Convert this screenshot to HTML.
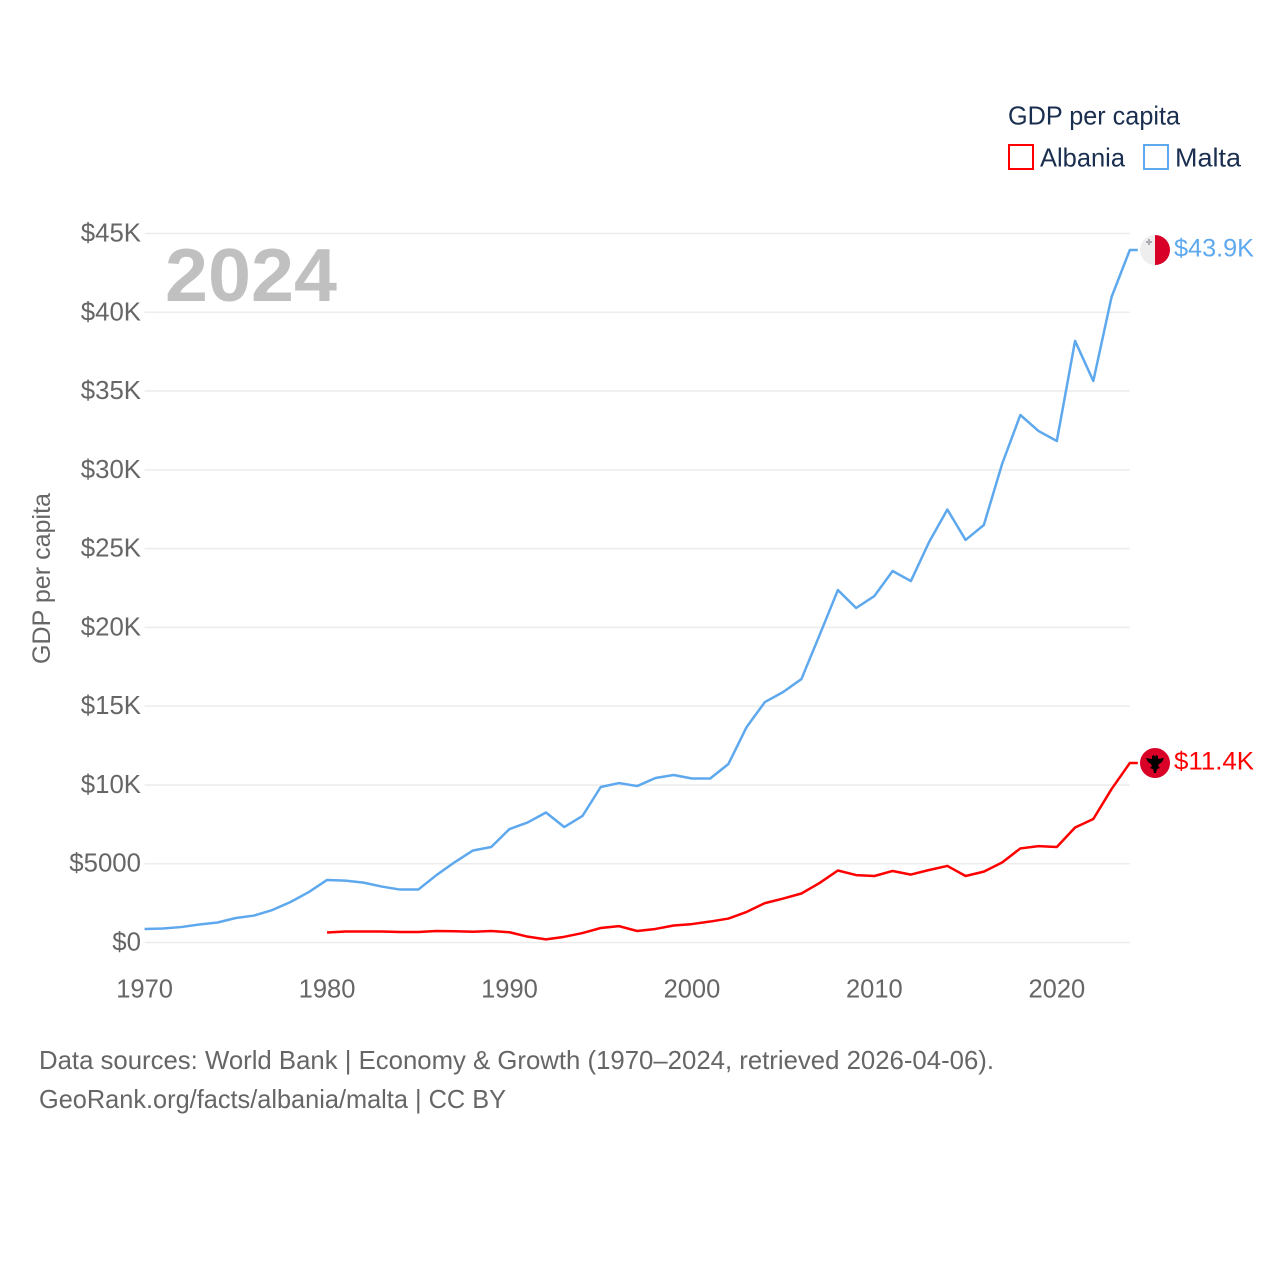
<!DOCTYPE html>
<html lang="en">
<head>
<meta charset="utf-8">
<title>GDP per capita: Albania and Malta</title>
<style>
html,body{margin:0;padding:0;background:#fff;width:1280px;height:1280px;overflow:hidden}
svg{display:block;font-family:"Liberation Sans",sans-serif}
</style>
</head>
<body>
<svg id="chart" xmlns="http://www.w3.org/2000/svg" width="1280" height="1280" viewBox="0 0 1280 1280">
  <defs>
    <clipPath id="flag-clip"><circle cx="0" cy="0" r="15"></circle></clipPath>
  </defs>
  <g id="grid"></g>
  <g id="y-ticks"></g>
  <g id="x-ticks"></g>
  <text x="165" y="301" font-size="75" font-weight="700" fill="#c0c0c0" textLength="172" lengthAdjust="spacingAndGlyphs">2024</text>
  <text transform="translate(50,664) rotate(-90)" font-size="25" fill="#666666" textLength="171" lengthAdjust="spacingAndGlyphs">GDP per capita</text>
  <g id="series"></g>
  <g id="malta-flag">
    <g clip-path="url(#flag-clip)">
      <rect x="-15" y="-15" width="15" height="30" fill="#eeeeee"></rect>
      <rect x="0" y="-15" width="15" height="30" fill="#d80027"></rect>
      <path d="M-7,-11h2v2h2v2h-2v2h-2v-2h-2v-2h2z" fill="#acabb1"></path>
    </g>
  </g>
  <g id="albania-flag">
    <g clip-path="url(#flag-clip)">
      <rect x="-15" y="-15" width="30" height="30" fill="#d80027"></rect>
      <path d="M-9,-5 L-3,-4 L-3,-7 L-1,-8 L0,-6 L1,-8 L3,-7 L3,-4 L9,-5 L7,-1 L4,1 L3,3 L5,5 L2,6 L1,10 L-1,10 L-2,6 L-5,5 L-3,3 L-4,1 L-7,-1 Z" fill="#000000"></path>
    </g>
  </g>
  <text id="malta-value" x="1174" font-size="25" fill="#5ea8ee" textLength="80" lengthAdjust="spacingAndGlyphs"></text>
  <text id="albania-value" x="1174" font-size="25" fill="#ff0000" textLength="80" lengthAdjust="spacingAndGlyphs"></text>
  <g>
    <text x="1008" y="124.5" font-size="26" fill="#1a2e4f" textLength="172" lengthAdjust="spacingAndGlyphs">GDP per capita</text>
    <rect x="1009" y="145" width="24" height="24" fill="none" stroke="#ff0000" stroke-width="2"></rect>
    <text x="1040" y="166.5" font-size="26" fill="#1a2e4f" textLength="85" lengthAdjust="spacingAndGlyphs">Albania</text>
    <rect x="1144" y="145" width="24" height="24" fill="none" stroke="#5ea8ee" stroke-width="2"></rect>
    <text x="1175" y="166.5" font-size="26" fill="#1a2e4f" textLength="66" lengthAdjust="spacingAndGlyphs">Malta</text>
  </g>
  <text x="39" y="1069" font-size="26" fill="#666666" textLength="955" lengthAdjust="spacingAndGlyphs">Data sources: World Bank | Economy &amp; Growth (1970–2024, retrieved 2026-04-06).</text>
  <text x="39" y="1108" font-size="26" fill="#666666" textLength="467" lengthAdjust="spacingAndGlyphs">GeoRank.org/facts/albania/malta | CC BY</text>
</svg>
<script>
const years = [1970,1971,1972,1973,1974,1975,1976,1977,1978,1979,1980,1981,1982,1983,1984,1985,1986,1987,1988,1989,1990,1991,1992,1993,1994,1995,1996,1997,1998,1999,2000,2001,2002,2003,2004,2005,2006,2007,2008,2009,2010,2011,2012,2013,2014,2015,2016,2017,2018,2019,2020,2021,2022,2023,2024];
const maltaValues = [857,890,980,1140,1270,1555,1710,2060,2570,3200,3970,3930,3800,3550,3360,3360,4280,5100,5840,6060,7200,7620,8250,7330,8030,9870,10120,9930,10440,10630,10410,10410,11330,13680,15260,15900,16720,19520,22370,21230,21990,23580,22940,25420,27480,25550,26500,30370,33480,32460,31830,38180,35640,40970,43950];
const albaniaValues = [null,null,null,null,null,null,null,null,null,null,635,700,700,700,670,670,730,715,685,730,650,370,200,360,600,920,1040,730,860,1080,1170,1330,1520,1940,2500,2790,3110,3780,4570,4280,4220,4540,4310,4600,4860,4220,4500,5080,5970,6120,6060,7300,7840,9740,11390];
const yTickValues = [0,5000,10000,15000,20000,25000,30000,35000,40000,45000];
const yTickLabels = ["$0","$5000","$10K","$15K","$20K","$25K","$30K","$35K","$40K","$45K"];
const xTickValues = [1970,1980,1990,2000,2010,2020];
const xTickLabels = ["1970","1980","1990","2000","2010","2020"];
const maltaLabel = "$43.9K";
const albaniaLabel = "$11.4K";

const NS = "http://www.w3.org/2000/svg";
function xScale(year){ return 144.6 + (year - 1970) * (985.2 / 54); }
function yScale(value){ return 942.5 - value * (709 / 45000); }

const grid = document.getElementById("grid");
const yTicks = document.getElementById("y-ticks");
const xTicks = document.getElementById("x-ticks");
const series = document.getElementById("series");

yTickValues.forEach(function(v, i){
  const line = document.createElementNS(NS, "line");
  
  
  line.setAttribute("x1", xScale(1970));
  line.setAttribute("x2", xScale(2024));
  line.setAttribute("y1", yScale(v));
  line.setAttribute("y2", yScale(v));
  line.setAttribute("stroke", "#ececec");
  line.setAttribute("stroke-width", "1.5");
  grid.appendChild(line);

  const label = document.createElementNS(NS, "text");
  
  
  label.setAttribute("x", 141);
  label.setAttribute("y", yScale(v) + 8);
  label.setAttribute("text-anchor", "end");
  label.setAttribute("font-size", "25.8");
  label.setAttribute("fill", "#666666");
  label.textContent = yTickLabels[i];
  yTicks.appendChild(label);
});

xTickValues.forEach(function(v, i){
  const label = document.createElementNS(NS, "text");
  
  
  label.setAttribute("x", xScale(v));
  label.setAttribute("y", 997.5);
  label.setAttribute("text-anchor", "middle");
  label.setAttribute("font-size", "25.5");
  label.setAttribute("fill", "#666666");
  label.textContent = xTickLabels[i];
  xTicks.appendChild(label);
});

function buildPath(values){
  let d = "";
  let last = null;
  values.forEach(function(v, i){
    if (v === null) return;
    d += (d === "" ? "M" : "L") + xScale(years[i]).toFixed(2) + "," + yScale(v).toFixed(2);
    last = v;
  });
  d += "L" + (xScale(years[years.length - 1]) + 8).toFixed(2) + "," + yScale(last).toFixed(2);
  return d;
}

const maltaPath = document.createElementNS(NS, "path");


maltaPath.setAttribute("d", buildPath(maltaValues));
maltaPath.setAttribute("fill", "none");
maltaPath.setAttribute("stroke", "#5ea8ee");
maltaPath.setAttribute("stroke-width", "2.5");
maltaPath.setAttribute("stroke-linejoin", "round");
series.appendChild(maltaPath);

const albaniaPath = document.createElementNS(NS, "path");


albaniaPath.setAttribute("d", buildPath(albaniaValues));
albaniaPath.setAttribute("fill", "none");
albaniaPath.setAttribute("stroke", "#ff0000");
albaniaPath.setAttribute("stroke-width", "2.5");
albaniaPath.setAttribute("stroke-linejoin", "round");
series.appendChild(albaniaPath);

const maltaEnd = yScale(maltaValues[maltaValues.length - 1]);
const albaniaEnd = yScale(albaniaValues[albaniaValues.length - 1]);
document.getElementById("malta-flag").setAttribute("transform", "translate(1155," + maltaEnd + ")");
document.getElementById("albania-flag").setAttribute("transform", "translate(1155," + albaniaEnd + ")");
const maltaText = document.getElementById("malta-value");
maltaText.setAttribute("y", maltaEnd + 6.5);
maltaText.textContent = maltaLabel;
const albaniaText = document.getElementById("albania-value");
albaniaText.setAttribute("y", albaniaEnd + 6.5);
albaniaText.textContent = albaniaLabel;
</script>
</body>
</html>
